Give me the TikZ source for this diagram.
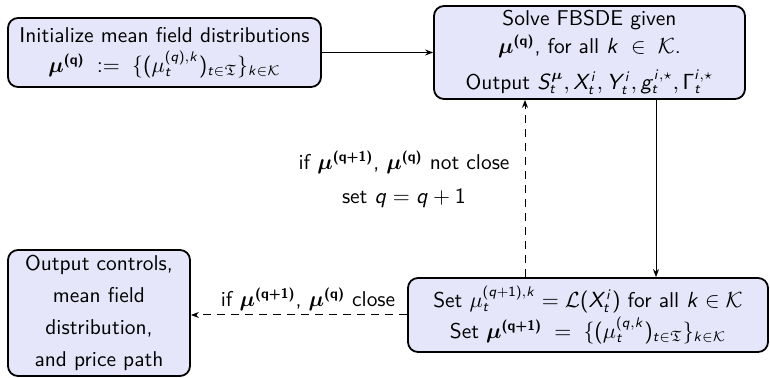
\documentclass[tikz,border=0pt]{standalone}
\usepackage{amsmath,amssymb,bm}
\usetikzlibrary{arrows.meta}
\definecolor{boxfill}{RGB}{230,230,250}
\SetSymbolFont{operators}{normal}{OT1}{cmss}{m}{n}
\SetSymbolFont{operators}{bold}{OT1}{cmss}{bx}{n}
\DeclareSymbolFont{sfit}{OT1}{cmss}{m}{sl}
\SetSymbolFont{sfit}{bold}{OT1}{cmss}{bx}{n}
\def\sfdecl#1{\DeclareMathSymbol{#1}{\mathalpha}{sfit}{`#1}}
\sfdecl a\sfdecl b\sfdecl c\sfdecl d\sfdecl e\sfdecl f\sfdecl g\sfdecl h\sfdecl i
\sfdecl j\sfdecl k\sfdecl l\sfdecl m\sfdecl n\sfdecl o\sfdecl p\sfdecl q\sfdecl r
\sfdecl s\sfdecl t\sfdecl u\sfdecl v\sfdecl w\sfdecl x\sfdecl y\sfdecl z
\sfdecl A\sfdecl B\sfdecl C\sfdecl D\sfdecl E\sfdecl F\sfdecl G\sfdecl H\sfdecl I
\sfdecl J\sfdecl K\sfdecl L\sfdecl M\sfdecl N\sfdecl O\sfdecl P\sfdecl Q\sfdecl R
\sfdecl S\sfdecl T\sfdecl U\sfdecl V\sfdecl W\sfdecl X\sfdecl Y\sfdecl Z
\begin{document}
\begin{tikzpicture}[x=0.5pt,y=-0.5pt,font=\sffamily\fontsize{10.7}{13}\selectfont,
  box/.style={draw=black,line width=0.9pt,rounded corners=5pt,fill=boxfill,align=center,inner sep=0pt},
  conn/.style={line width=0.5pt,-{Stealth[length=4pt,width=3pt]}},
  dconn/.style={conn,dashed,dash pattern=on 4pt off 3pt}]
\useasboundingbox (0,0) rectangle (770,378);
\node[box,minimum width=156.5pt,minimum height=34.5pt] (A) at (164.5,52.5)
  {Initialize mean field distributions\\[2pt] $\bm{\mu^{(q)}}\;:=\;\{(\mu_t^{(q),k})_{t\in\mathfrak{T}}\}_{k\in\mathcal{K}}$};
\node[box,minimum width=155.5pt,minimum height=46.5pt] (B) at (589.5,52.5)
  {Solve FBSDE given\\[1pt] $\bm{\mu^{(q)}}$, for all $k\;\in\;\mathcal{K}$.\\[5pt] Output $S_t^{\bm{\mu}},X_t^i,Y_t^i,g_t^{i,\star},\Gamma_t^{i,\star}$};
\node[box,minimum width=180pt,minimum height=37pt] (C) at (588,315)
  {Set $\mu_t^{(q+1),k}=\mathcal{L}(X_t^i)$ for all $k\in\mathcal{K}$\\[1pt] Set $\bm{\mu^{(q+1)}}\;=\;\{(\mu_t^{(q,k})_{t\in\mathfrak{T}}\}_{k\in\mathcal{K}}$};
\node[box,minimum width=91pt,minimum height=63pt] (D) at (99,313)
  {Output controls,\\[3pt] mean field\\[3pt] distribution,\\[3pt] and price path};
\node[align=center,inner sep=0pt] (L1) at (404,179)
  {if $\bm{\mu^{(q+1)}}$, $\bm{\mu^{(q)}}$ not close\\[4pt] set $q=q+1$};
\node[inner sep=0pt] (L2) at (308,299) {if $\bm{\mu^{(q+1)}}$, $\bm{\mu^{(q)}}$ close};
\draw[conn] (A.east) -- (B.west);
\draw[conn] (B.south -| 656,0) -- (C.north -| 656,0);
\draw[dconn] (C.north -| 525,0) -- (B.south -| 525,0);
\draw[dconn] (C.west |- 0,315) -- (D.east |- 0,315);
\end{tikzpicture}
\end{document}
